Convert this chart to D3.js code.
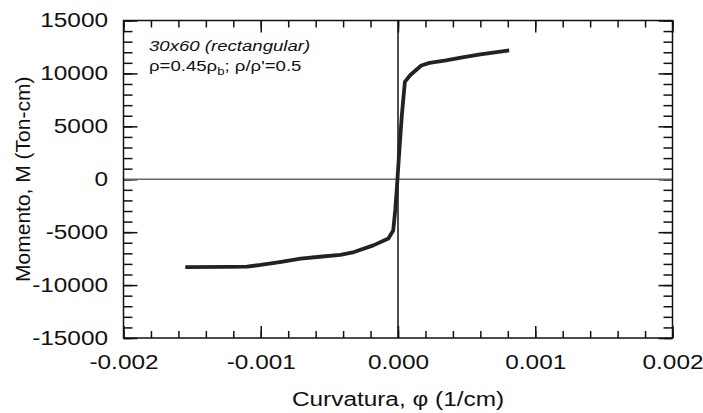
<!DOCTYPE html>
<html>
<head>
<meta charset="utf-8">
<script src="https://cdn.jsdelivr.net/npm/d3@7"></script>
<style>
body{margin:0;background:#fff;}
text{font-family:"Liberation Sans",Arial,sans-serif;fill:#111;}
</style>
</head>
<body>
<div id="chart"></div>
<script>
// curvatura (1/cm) y momento (Ton-cm)
var phi = [-0.00155,-0.00125,-0.00110,-0.00100,-0.00085,-0.00071,-0.00055,-0.00042,-0.00032,-0.00018,
           -0.00007,-0.000035,-0.00002,-0.000008,0.000005,0.000027,0.00005,0.00009,0.00017,0.00023,
           0.00035,0.00048,0.0006,0.00072,0.00081]
var momento = [-8300,-8280,-8250,-8100,-7800,-7500,-7300,-7150,-6880,-6250,
               -5600,-4850,-2900,-800,1800,5900,9200,9850,10750,11000,
               11230,11540,11800,12020,12170]
var xTicks = [-0.002,-0.001,0,0.001,0.002]
var yTicks = [-15000,-10000,-5000,0,5000,10000,15000]
var xMinor = d3.range(-10,11).map(i=>i*0.0002)
var yMinor = d3.range(-15,16).map(i=>i*1000)

var width = 703, height = 413
var mLeft = 123.5, mRight = 672.5, mTop = 20.5, mBottom = 338
var sx = 1.25 // el texto original esta estirado a lo ancho

var svg = d3.select("#chart").append("svg")
    .attr("width",width)
    .attr("height",height)

var x = d3.scaleLinear().domain([-0.002,0.002]).range([mLeft,mRight])
var y = d3.scaleLinear().domain([-15000,15000]).range([mBottom,mTop])

//ejes con marcas hacia adentro
function ticks(axis, tr){
    var g = svg.append("g").attr("transform",tr).call(axis)
    g.select(".domain").remove()
    g.selectAll("line").attr("stroke","#111").attr("stroke-width",1.5)
    return g
}
ticks(d3.axisBottom(x).tickValues(xMinor).tickSize(-7).tickFormat(""),"translate(0,"+mBottom+")")
ticks(d3.axisTop(x).tickValues(xMinor).tickSize(-7).tickFormat(""),"translate(0,"+mTop+")")
ticks(d3.axisTop(x).tickValues(xTicks).tickSize(-12).tickFormat(""),"translate(0,"+mTop+")")
ticks(d3.axisLeft(y).tickValues(yMinor).tickSize(-9).tickFormat(""),"translate("+mLeft+",0)")
ticks(d3.axisRight(y).tickValues(yMinor).tickSize(-9).tickFormat(""),"translate("+mRight+",0)")
ticks(d3.axisRight(y).tickValues(yTicks).tickSize(-14).tickFormat(""),"translate("+mRight+",0)")

var gx = ticks(d3.axisBottom(x).tickValues(xTicks).tickSize(-12).tickPadding(17)
        .tickFormat(d=>d.toFixed(3)),"translate(0,"+mBottom+")")
gx.selectAll("text")
    .attr("font-size",19.5)
    .attr("font-family","Liberation Sans, Arial, sans-serif")
    .attr("fill","#111")
    .attr("transform","scale("+sx+",1)")

var gy = ticks(d3.axisLeft(y).tickValues(yTicks).tickSize(-14)
        .tickFormat(d=>String(d)),"translate("+mLeft+",0)")
gy.selectAll("text")
    .attr("font-size",19.5)
    .attr("font-family","Liberation Sans, Arial, sans-serif")
    .attr("fill","#111")
    .attr("x",-15.5/sx)
    .attr("transform","scale("+sx+",1)")

//lineas de cero
svg.append("line")
    .attr("x1",mLeft).attr("x2",mRight)
    .attr("y1",y(0)).attr("y2",y(0))
    .attr("stroke","#666").attr("stroke-width",1.5)
svg.append("line")
    .attr("x1",x(0)).attr("x2",x(0))
    .attr("y1",mTop).attr("y2",mBottom)
    .attr("stroke","#111").attr("stroke-width",1.5)

//marco
svg.append("rect")
    .attr("x",mLeft).attr("y",mTop)
    .attr("width",mRight-mLeft).attr("height",mBottom-mTop)
    .attr("fill","none").attr("stroke","#111").attr("stroke-width",1.5)

//curva
var line = d3.line()
    .x((d,i)=>x(phi[i]))
    .y((d,i)=>y(momento[i]))
svg.append("path")
    .attr("d",line(phi))
    .attr("fill","none")
    .attr("stroke","#222")
    .attr("stroke-width",3.8)
    .attr("stroke-linejoin","round")

//anotaciones
svg.append("text")
    .attr("transform","translate(149,51) scale(1.2,1)")
    .attr("font-size",15.5)
    .attr("font-style","italic")
    .text("30x60 (rectangular)")
var t2 = svg.append("text")
    .attr("transform","translate(149,71) scale(1.2,1)")
    .attr("font-size",15.5)
t2.append("tspan").text("ρ=0.45ρ")
t2.append("tspan").attr("font-size",11).attr("dy",4).text("b")
t2.append("tspan").attr("dy",-4).text("; ρ/ρ'=0.5")

//titulos
svg.append("text")
    .attr("transform","translate("+x(0)+",406) scale("+sx+",1)")
    .attr("text-anchor","middle")
    .attr("font-size",19.5)
    .text("Curvatura, φ (1/cm)")
svg.append("text")
    .attr("transform","translate(30,"+((mTop+mBottom)/2)+") rotate(-90)")
    .attr("text-anchor","middle")
    .attr("font-size",21)
    .text("Momento, M (Ton-cm)")
</script>
</body>
</html>
